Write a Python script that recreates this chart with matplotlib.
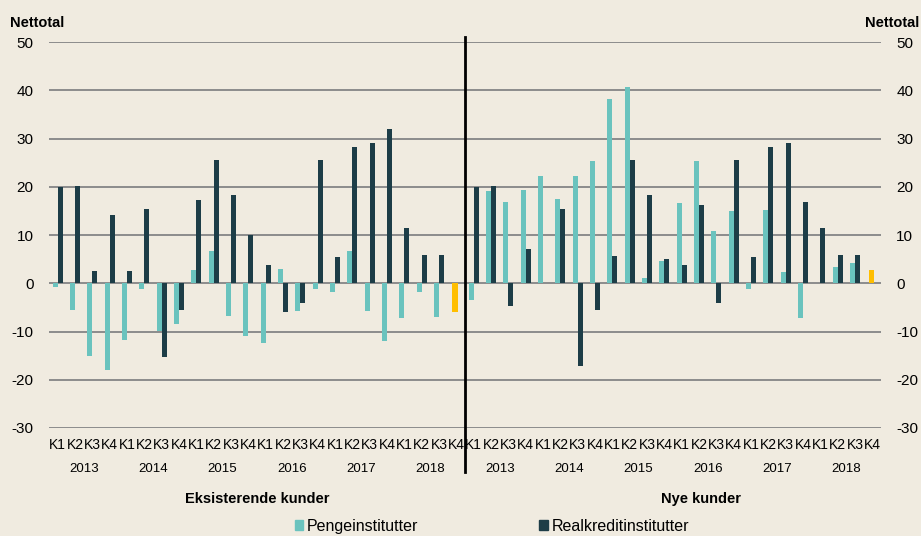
import numpy as np
import matplotlib
matplotlib.use('Agg')
import matplotlib.pyplot as plt
from matplotlib.patches import Patch
import matplotlib.transforms as mtransforms

plt.rcParams['font.family'] = ['Liberation Sans', 'DejaVu Sans']
plt.rcParams['axes.unicode_minus'] = False

years = ['2013', '2014', '2015', '2016', '2017', '2018']
quarters = ['K1', 'K2', 'K3', 'K4']
nan = np.nan

# Eksisterende kunder
eks_penge = [-0.7, -5.5, -15.1, -17.9, -11.8, -1.1, -9.9, -8.4,
             2.8, 6.7, -6.8, -10.9, -12.3, 3.0, -5.7, -1.1,
             -1.9, 6.7, -5.7, -12.0, -7.3, -1.9, -6.9, nan]
eks_real = [20.0, 20.2, 2.5, 14.2, 2.5, 15.3, -15.3, -5.5,
            17.3, 25.6, 18.2, 10.0, 3.7, -6.0, -4.1, 25.6,
            5.5, 28.2, 29.1, 31.9, 11.4, 5.8, 5.8, nan]
eks_latest = -5.9

# Nye kunder
nye_penge = [-3.5, 19.1, 16.9, 19.4, 22.2, 17.5, 22.2, 25.4,
             38.2, 40.7, 1.0, 4.6, 16.7, 25.3, 10.8, 14.9,
             -1.2, 15.1, 2.3, -7.1, 0.1, 3.3, 4.3, nan]
nye_real = [20.0, 20.2, -4.7, 7.1, 0.0, 15.3, -17.1, -5.5,
            5.7, 25.6, 18.2, 5.0, 3.7, 16.2, -4.1, 25.6,
            5.5, 28.2, 29.1, 16.8, 11.4, 5.8, 5.8, nan]
nye_latest = 2.8

teal = '#6AC3BE'
dark = '#1D3D47'
yellow = '#FFBE00'
bg = '#F0EBE0'

penge = eks_penge + nye_penge
real = eks_real + nye_real
n = len(penge)
x = np.arange(n)
labels = quarters * (2 * len(years))

fig = plt.figure(figsize=(9.21, 5.36), dpi=100, facecolor=bg)
ax = fig.add_axes([0.0532, 0.2015, 0.9034, 0.7201], facecolor=bg)

w = 0.29
ax.bar(x - 0.15, penge, width=w, color=teal, zorder=3)
ax.bar(x + 0.14, real, width=w, color=dark, zorder=3)
ax.bar([23 - 0.1, 47 - 0.05], [eks_latest, nye_latest], width=w + 0.05,
       color=yellow, zorder=3)

ax.set_xlim(-0.5, n - 0.5)
ax.set_ylim(-30, 50)
ax.set_yticks(range(-30, 51, 10))
ax.grid(axis='y', color='#8C8C8C', linewidth=1.4, zorder=1)
ax.set_axisbelow(True)
for s in ax.spines.values():
    s.set_visible(False)

ax.set_xticks(x)
ax.set_xticklabels(labels, fontsize=10)
ax.tick_params(axis='x', length=0, pad=7)
ax.tick_params(axis='y', length=0, labelsize=11, pad=11,
               labelleft=True, labelright=True)

trans = mtransforms.blended_transform_factory(ax.transData, ax.transAxes)
for i, yr in enumerate(years):
    for p in range(2):
        ax.text(p * 24 + i * 4 + 1.5, -0.107, yr, transform=trans,
                ha='center', va='center', fontsize=9.5)

ax.text(11.5, -0.185, 'Eksisterende kunder', transform=trans,
        ha='center', va='center', fontsize=10.5, fontweight='bold')
ax.text(37.1, -0.185, 'Nye kunder', transform=trans,
        ha='center', va='center', fontsize=10.5, fontweight='bold')

# divider between panels
ax.plot([23.5, 23.5], [1.012, -0.114], transform=trans, color='black',
        linewidth=2, clip_on=False, zorder=5)

fig.text(10 / 921, 1 - 23 / 536, 'Nettotal', ha='left', va='center',
         fontsize=10.5, fontweight='bold')
fig.text(919 / 921, 1 - 23 / 536, 'Nettotal', ha='right', va='center',
         fontsize=10.5, fontweight='bold')

handles = [Patch(color=teal, label='Pengeinstitutter'),
           Patch(color=dark, label='Realkreditinstitutter')]
fig.legend(handles=handles, loc='center', bbox_to_anchor=(0.534, 0.018),
           ncol=2, frameon=False, fontsize=11.5, handlelength=0.55,
           handleheight=0.6, handletextpad=0.2, columnspacing=7.6,
           borderpad=0.2)

fig.savefig('out.png', dpi=100, facecolor=bg)
